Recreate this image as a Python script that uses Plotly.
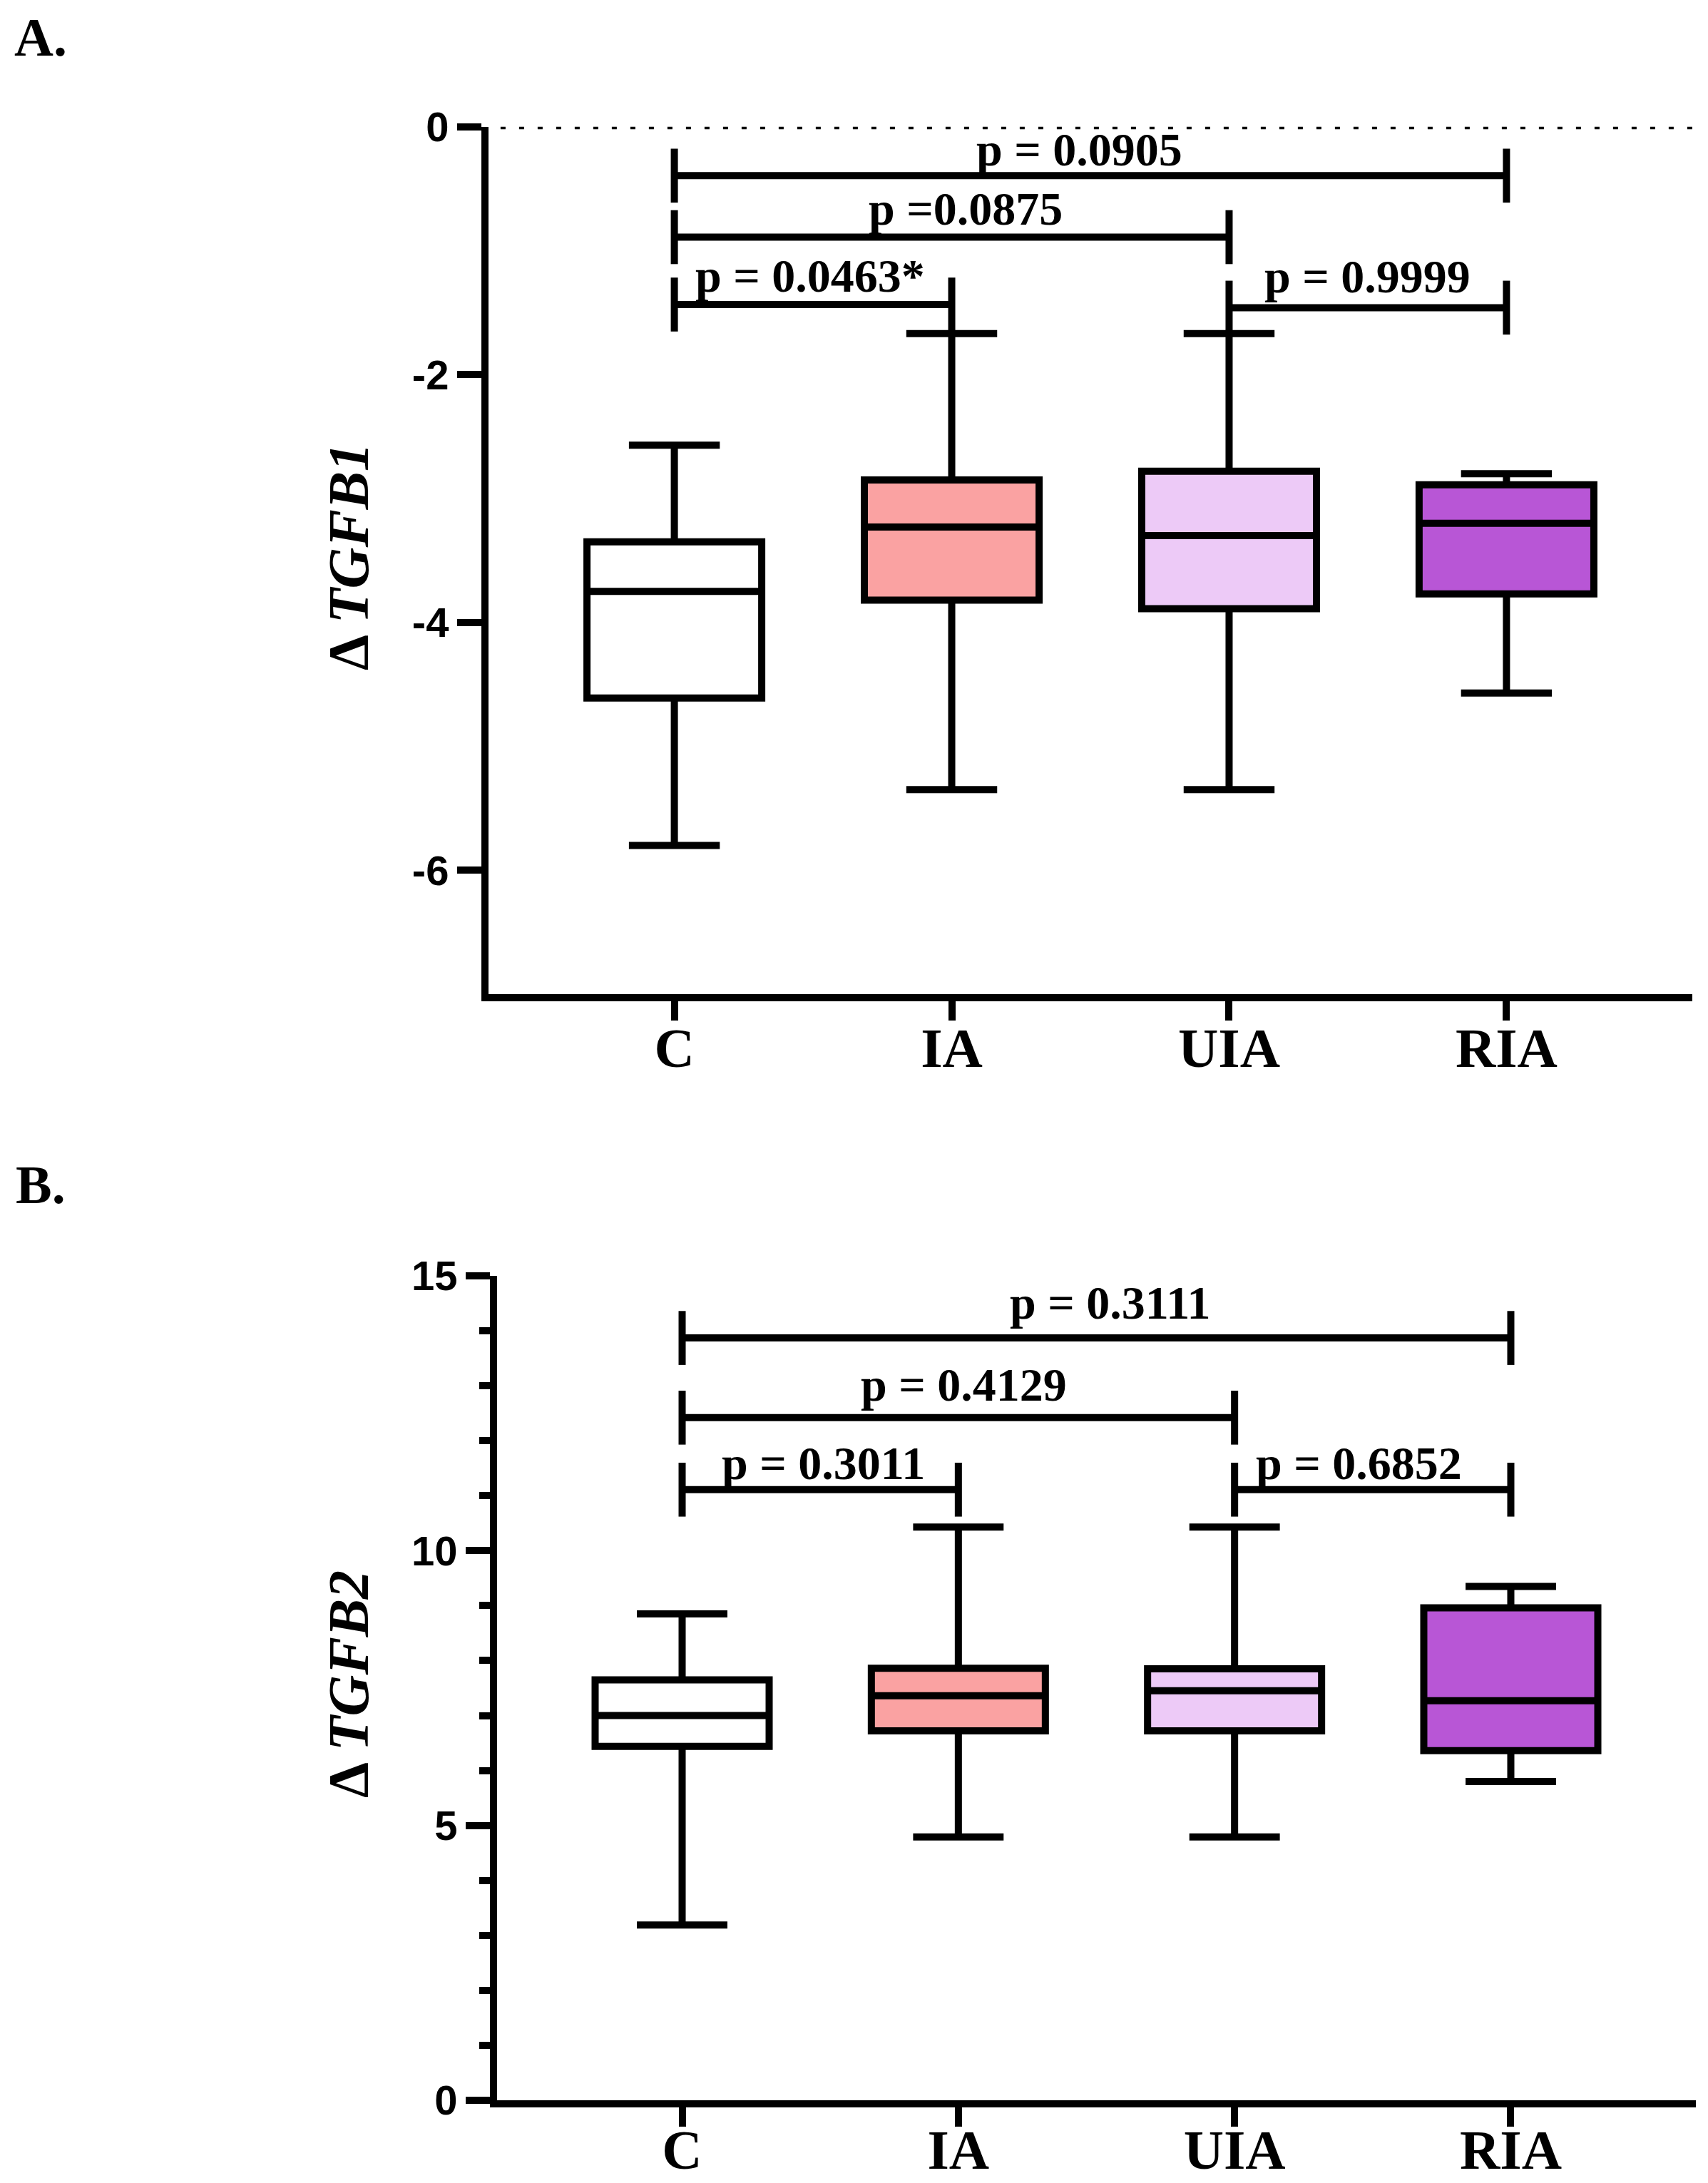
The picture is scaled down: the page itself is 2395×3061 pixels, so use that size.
import plotly.graph_objects as go

# group names
categories = ["C", "IA", "UIA", "RIA"]
box_colors = ["#FFFFFF", "#FAA2A2", "#EDCAF7", "#B856D6"]

# panel A - delta TGFB1 (min, q1, median, q3, max)
tgfb1_min = [-5.80, -5.35, -5.35, -4.57]
tgfb1_q1 = [-4.61, -3.82, -3.89, -3.77]
tgfb1_med = [-3.75, -3.23, -3.30, -3.20]
tgfb1_q3 = [-3.35, -2.85, -2.78, -2.89]
tgfb1_max = [-2.57, -1.67, -1.67, -2.80]

# panel B - delta TGFB2
tgfb2_min = [3.19, 4.79, 4.79, 5.80]
tgfb2_q1 = [6.44, 6.72, 6.72, 6.36]
tgfb2_med = [7.00, 7.36, 7.45, 7.27]
tgfb2_q3 = [7.65, 7.86, 7.85, 8.96]
tgfb2_max = [8.85, 10.43, 10.43, 9.35]

# comparisons (group index pairs)
pair_start = [0, 0, 0, 2]
pair_end = [3, 2, 1, 3]

a_bracket_y = [-0.395, -0.891, -1.435, -1.46]
a_labels = ["p = 0.0905", "p =0.0875", "p = 0.0463*", "p = 0.9999"]
a_label_x = [1.46, 1.05, 0.49, 2.50]
a_label_y = [-0.183, -0.66, -1.20, -1.21]

b_bracket_y = [13.87, 12.42, 11.11, 11.11]
b_labels = ["p = 0.3111", "p = 0.4129", "p = 0.3011", "p = 0.6852"]
b_label_x = [1.55, 1.02, 0.51, 2.45]
b_label_y = [14.51, 13.02, 11.60, 11.60]

a_ticks = [-6, -4, -2, 0]
b_ticks = [0, 5, 10, 15]

SERIF = "Liberation Serif"
SANS = "Liberation Sans"
LW = 10

# page body has an 8px margin, so the figure sits 8px in from the corner
W, H, OFF = 2379, 3053, 8


def fx(px):
    return (px - OFF) / W


def fy(py):
    return 1 - (py - OFF) / H


fig = go.Figure()


def add_boxes(xa, ya, mins, q1s, meds, q3s, maxs):
    for i, name in enumerate(categories):
        fig.add_trace(go.Box(
            x=[i], q1=[q1s[i]], median=[meds[i]], q3=[q3s[i]],
            lowerfence=[mins[i]], upperfence=[maxs[i]],
            width=0.63, whiskerwidth=0.52, boxpoints=False,
            fillcolor=box_colors[i], line=dict(color="black", width=LW),
            name=name, showlegend=False, hoverinfo="skip",
            xaxis=xa, yaxis=ya))


def add_brackets(xa, ya, heights, labels, lx, ly):
    for s, e, h in zip(pair_start, pair_end, heights):
        fig.add_trace(go.Scatter(
            x=[s, e], y=[h, h], mode="lines+markers",
            line=dict(color="black", width=LW),
            marker=dict(symbol="line-ns", size=54, color="black",
                        line=dict(color="black", width=LW)),
            showlegend=False, hoverinfo="skip", xaxis=xa, yaxis=ya))
    for t, x, y in zip(labels, lx, ly):
        fig.add_annotation(x=x, y=y, xref=xa, yref=ya, text="<b>" + t + "</b>",
                           showarrow=False, xanchor="center", yanchor="middle",
                           font=dict(family=SERIF, size=66, color="black"))


add_boxes("x", "y", tgfb1_min, tgfb1_q1, tgfb1_med, tgfb1_q3, tgfb1_max)
add_brackets("x", "y", a_bracket_y, a_labels, a_label_x, a_label_y)
add_boxes("x2", "y2", tgfb2_min, tgfb2_q1, tgfb2_med, tgfb2_q3, tgfb2_max)
add_brackets("x2", "y2", b_bracket_y, b_labels, b_label_x, b_label_y)

# dotted line at zero in panel A
fig.add_shape(type="line", xref="x domain", yref="y", x0=0.01, x1=1, y0=0, y1=0,
              line=dict(color="black", width=7, dash="7px,19px"))

xaxis_style = dict(range=[-0.67, 3.67], tickvals=list(range(len(categories))),
                   ticktext=categories, showline=True, linecolor="black",
                   linewidth=LW, ticks="outside", ticklen=27, tickwidth=LW,
                   tickcolor="black", showgrid=False, zeroline=False,
                   automargin=False,
                   tickfont=dict(family=SERIF, size=78, color="black", weight="bold"))
yaxis_style = dict(showline=True, linecolor="black", linewidth=LW,
                   ticks="outside", ticklen=34, tickwidth=LW, tickcolor="black",
                   showgrid=False, zeroline=False, automargin=False,
                   tickfont=dict(family=SANS, size=58, color="black", weight="bold"))

fig.update_layout(
    width=W, height=H,
    margin=dict(l=0, r=0, t=0, b=0),
    paper_bgcolor="white", plot_bgcolor="white",
    xaxis=dict(domain=[fx(685), fx(2373)], anchor="y", ticklabelstandoff=-29,
               **xaxis_style),
    yaxis=dict(domain=[fy(1394), fy(177.7)], anchor="x", range=[-7, 0],
               tickvals=a_ticks, ticktext=[str(v) for v in a_ticks], **yaxis_style),
    xaxis2=dict(domain=[fx(697), fx(2378)], anchor="y2", ticklabelstandoff=-35,
                **xaxis_style),
    yaxis2=dict(domain=[fy(2945), fy(1789)], anchor="x2", range=[0, 15],
                tickvals=b_ticks, ticktext=[str(v) for v in b_ticks],
                minor=dict(dtick=1, ticks="outside", ticklen=15, tickwidth=LW,
                           tickcolor="black", showgrid=False),
                **yaxis_style),
)

# axis titles and panel letters
fig.add_annotation(x=fx(489), y=fy(781), xref="paper", yref="paper",
                   xanchor="center", yanchor="middle",
                   text="<b>Δ <i>TGFB1</i></b>", textangle=-90, showarrow=False,
                   font=dict(family=SERIF, size=80, color="black"))
fig.add_annotation(x=fx(489), y=fy(2362), xref="paper", yref="paper",
                   xanchor="center", yanchor="middle",
                   text="<b>Δ <i>TGFB2</i></b>", textangle=-90, showarrow=False,
                   font=dict(family=SERIF, size=80, color="black"))
fig.add_annotation(x=fx(18), y=fy(52), xref="paper", yref="paper", text="<b>A.</b>",
                   showarrow=False, xanchor="left", yanchor="middle",
                   font=dict(family=SERIF, size=76, color="black"))
fig.add_annotation(x=fx(20), y=fy(1661), xref="paper", yref="paper", text="<b>B.</b>",
                   showarrow=False, xanchor="left", yanchor="middle",
                   font=dict(family=SERIF, size=76, color="black"))

fig.write_html("out.html")
